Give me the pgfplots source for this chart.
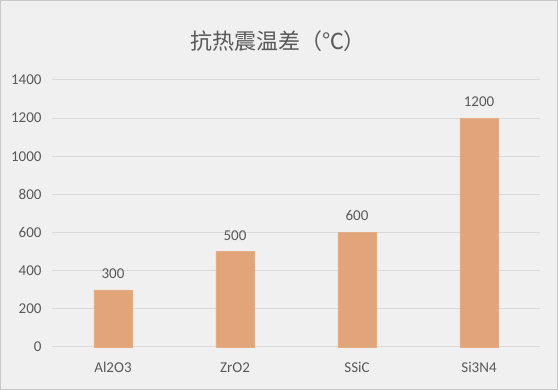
\documentclass[border=0pt]{standalone}
\usepackage{pgfplots}
\pgfplotsset{compat=1.18}
\usepackage{fontspec}
\setmainfont{Carlito}
\newfontfamily\cjk{Noto Sans CJK SC}
\definecolor{bg}{HTML}{F0F0F0}
\definecolor{frame}{HTML}{C8C8C8}
\definecolor{barc}{HTML}{E2A479}
\definecolor{gridc}{HTML}{D9D9D9}
\definecolor{txt}{HTML}{595959}
\begin{document}
\begin{tikzpicture}[x=1pt,y=1pt]
\fill[bg] (0,0) rectangle (558,390);
\draw[frame, line width=1pt] (0.5,0.5) rectangle (557.5,389.5);
\node[text=txt, font=\cjk\fontsize{22}{26}\selectfont] at (278,349) {抗热震温差（℃）};
\begin{axis}[
  at={(52pt,43pt)}, anchor=south west,
  scale only axis, width=488pt, height=267pt,
  xmin=-0.5, xmax=3.5, ymin=0, ymax=1400,
  ytick={0,200,...,1400},
  xtick={0,1,2,3},
  xticklabels={Al2O3,ZrO2,SSiC,Si3N4},
  axis lines*=left,
  x axis line style={gridc, line width=1pt, -},
  y axis line style={draw=none},
  ymajorgrids, grid style={gridc, line width=1pt},
  major tick length=0pt,
  tick style={draw=none},
  ticklabel style={text=txt, font=\fontsize{15}{18}\selectfont},
  /pgf/number format/assume math mode=true,
  /pgf/number format/1000 sep={},
  yticklabel style={xshift=-7pt},
  xticklabel style={yshift=-12pt},
  clip=false,
]
\addplot[ybar, bar width=38pt, fill=barc, draw=barc!90!white,
  nodes near coords, every node near coord/.append style={text=txt, font=\fontsize{15}{18}\selectfont, yshift=8pt},
  ] coordinates {(0,300) (1,500) (2,600) (3,1200)};
\end{axis}
\end{tikzpicture}
\end{document}
